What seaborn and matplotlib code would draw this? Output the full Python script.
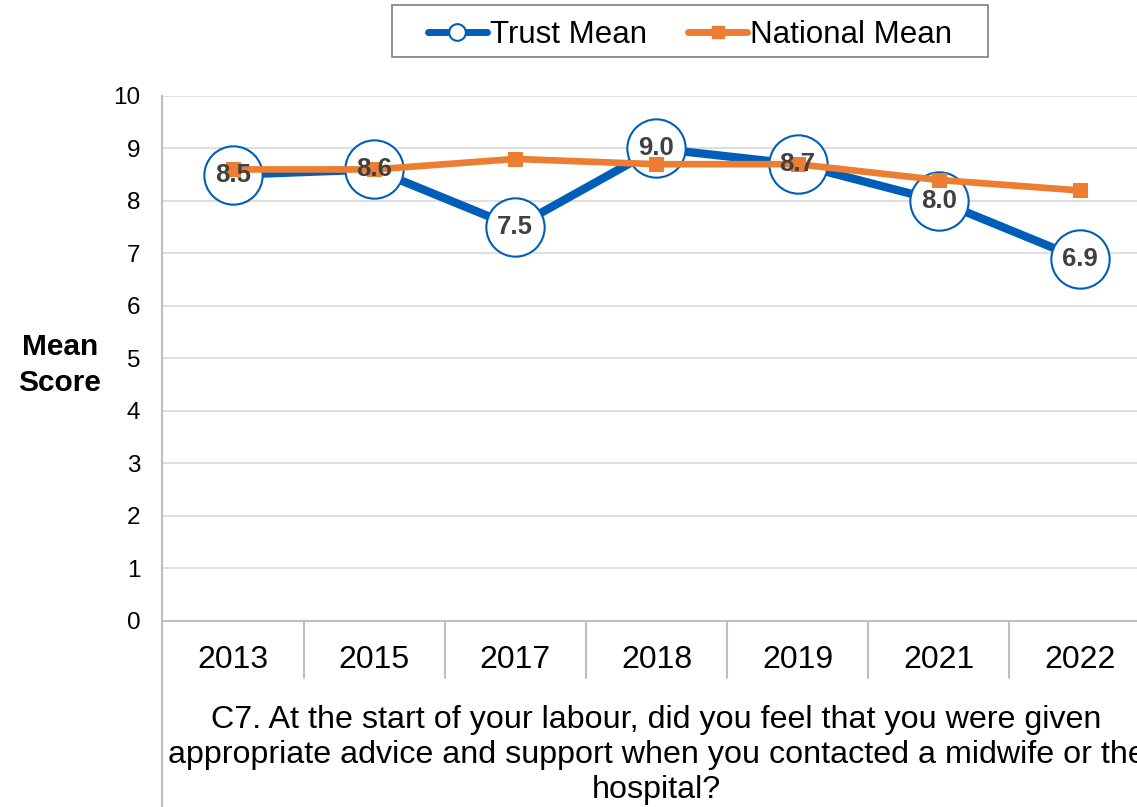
import matplotlib
matplotlib.use("Agg")
import matplotlib.pyplot as plt
import matplotlib.transforms as mtransforms
from matplotlib.lines import Line2D
from matplotlib.patches import Rectangle
import seaborn as sns
import pandas as pd

# Survey years and mean scores
years = ["2013", "2015", "2017", "2018", "2019", "2021", "2022"]
trust_mean = [8.5, 8.6, 7.5, 9.0, 8.7, 8.0, 6.9]
national_mean = [8.6, 8.6, 8.8, 8.7, 8.7, 8.4, 8.2]
y_ticks = [0, 1, 2, 3, 4, 5, 6, 7, 8, 9, 10]

question = ("C7. At the start of your labour, did you feel that you were given\n"
            "appropriate advice and support when you contacted a midwife or the\n"
            "hospital?")

BLUE = "#005EB8"
ORANGE = "#ED7D31"
GRID = "#D9D9D9"
AXIS = "#BFBFBF"

sns.set_theme(style="white")
plt.rcParams["font.family"] = ["Liberation Sans", "DejaVu Sans"]

df = pd.DataFrame({"year": years, "trust": trust_mean, "national": national_mean})

W, H = 1137, 807
fig = plt.figure(figsize=(W / 100, H / 100), dpi=100)
ax = fig.add_axes([0.1428, 0.2305, 0.8691, 0.6506])

sns.lineplot(data=df, x="year", y="trust", ax=ax, color=BLUE, linewidth=6,
             marker="o", markersize=42, markerfacecolor="white",
             markeredgecolor=BLUE, markeredgewidth=1.5, zorder=3)
sns.lineplot(data=df, x="year", y="national", ax=ax, color=ORANGE, linewidth=4.8,
             marker="s", markersize=9.5, markerfacecolor=ORANGE,
             markeredgecolor=ORANGE, zorder=4)

for i, v in enumerate(trust_mean):
    ax.text(i, v, f"{v:.1f}", ha="center", va="center", fontsize=18.5,
            fontweight="bold", color="#404040", zorder=5)

ax.set_xlim(-0.5, len(years) - 0.5)
ax.set_ylim(0, 10)
ax.set_yticks(y_ticks)
ax.yaxis.grid(True, color=GRID, linewidth=1.2)
ax.set_axisbelow(True)

for side in ["top", "right"]:
    ax.spines[side].set_visible(False)
for side in ["left", "bottom"]:
    ax.spines[side].set_color(AXIS)
    ax.spines[side].set_linewidth(1.5)

ax.tick_params(axis="x", length=0, pad=17, labelsize=23, labelcolor="black")
ax.tick_params(axis="y", length=0, pad=16, labelsize=17.5, labelcolor="black")

# category separators below the axis and the extended left axis line
trans = mtransforms.blended_transform_factory(ax.transData, ax.transAxes)
for i in range(len(years) + 1):
    xpos = i - 0.5
    bottom = -0.354 if i == 0 else -0.109
    ax.plot([xpos, xpos], [0, bottom], transform=trans, color=AXIS,
            linewidth=1.5, clip_on=False)

ax.set_xlabel("")
ax.set_ylabel("Mean\nScore", rotation=0, fontsize=21.5, fontweight="bold",
              color="black", ha="center", va="center", linespacing=1.35)
ax.yaxis.set_label_coords(-0.1036, 0.4876)

ax.text(0.5, -0.160, question, transform=ax.transAxes, ha="center", va="top",
        fontsize=23.2, color="black", linespacing=1.22)

handles = [
    Line2D([], [], color=BLUE, linewidth=5, marker="o", markersize=12,
           markerfacecolor="white", markeredgecolor=BLUE, markeredgewidth=1.5),
    Line2D([], [], color=ORANGE, linewidth=5, marker="s", markersize=9,
           markerfacecolor=ORANGE, markeredgecolor=ORANGE),
]
leg = fig.legend(handles, ["Trust Mean", "National Mean"], loc="center",
                 bbox_to_anchor=(690 / W, 1 - 35 / H), ncol=2,
                 fontsize=22.5, frameon=False,
                 handlelength=1.9, handletextpad=0.1, columnspacing=1.3)
for t in leg.get_texts():
    t.set_color("black")

# legend border box
fig.patches.append(Rectangle((392 / W, 1 - 57 / H), (988 - 392) / W, 52 / H,
                             transform=fig.transFigure, fill=False,
                             edgecolor="#7F7F7F", linewidth=1.2))

fig.savefig("out.png", dpi=100)
